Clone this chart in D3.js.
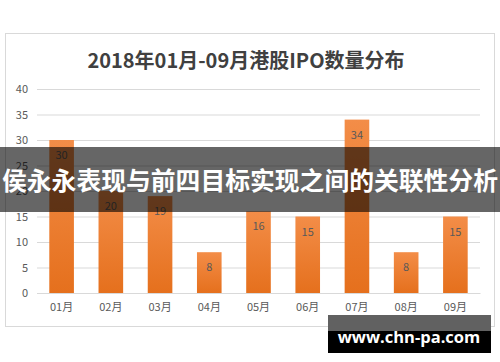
<!DOCTYPE html>
<html>
<head>
<meta charset="utf-8">
<script src="https://cdn.jsdelivr.net/npm/d3@7"></script>
<style>
  body { margin: 0; background: #fff; }
  svg { display: block; }
</style>
</head>
<body>
<div id="chart"></div>
<script>
// chart data
var months = ["01月", "02月", "03月", "04月", "05月", "06月", "07月", "08月", "09月"];
var ipoCounts = [30, 20, 19, 8, 16, 15, 34, 8, 15];
var yTicks = [0, 5, 10, 15, 20, 25, 30, 35, 40];
var titleText = "2018年01月-09月港股IPO数量分布";
var bannerText = "侯永永表现与前四目标实现之间的关联性分析";
var markText = "www.chn-pa.com";

// svg measurements
var svgWidth = 500;
var svgHeight = 362;
var plot = {left: 37, right: 480, top: 89, bottom: 293};
var cjk = "'Noto Sans CJK SC', 'Noto Sans', sans-serif";

var svg = d3
    .select("#chart")
    .append("svg")
    .attr("width", svgWidth)
    .attr("height", svgHeight);

// bar gradient
var grad = svg.append("defs")
    .append("linearGradient")
    .attr("id", "barGrad")
    .attr("x1", 0).attr("y1", 0)
    .attr("x2", 0).attr("y2", 1);
grad.append("stop").attr("offset", "0%").attr("stop-color", "#f38d48");
grad.append("stop").attr("offset", "100%").attr("stop-color", "#e5701d");

// chart frame
svg.append("rect")
    .attr("x", 5.5)
    .attr("y", 33.5)
    .attr("width", 489)
    .attr("height", 293)
    .attr("fill", "#fff")
    .attr("stroke", "#d9d9d9");

// title
svg.append("text")
    .attr("x", 246)
    .attr("y", 68)
    .attr("text-anchor", "middle")
    .attr("font-family", cjk)
    .attr("font-size", "20px")
    .attr("font-weight", "bold")
    .attr("fill", "#404040")
    .text(titleText);

// scales
var xScale = d3.scaleBand()
    .domain(months)
    .range([plot.left, plot.right])
    .paddingInner(0.5)
    .paddingOuter(0.25);

var yScale = d3.scaleLinear()
    .domain([0, 40])
    .range([plot.bottom, plot.top]);

// gridlines + y labels
var leftAxis = d3.axisLeft(yScale)
    .tickValues(yTicks)
    .tickSize(-(plot.right - plot.left))
    .tickPadding(9);

var yAxis = svg.append("g")
    .attr("transform", "translate(" + plot.left + ",0)")
    .call(leftAxis);
yAxis.select(".domain").remove();
yAxis.selectAll("line").attr("stroke", "#d9d9d9");
yAxis.selectAll("text")
    .attr("font-family", cjk)
    .attr("font-size", "11px")
    .attr("fill", "#595959");

// bars
svg.append("g")
    .selectAll("rect")
    .data(ipoCounts)
    .enter()
    .append("rect")
    .attr("x", (d, i) => xScale(months[i]))
    .attr("y", d => yScale(d))
    .attr("width", xScale.bandwidth())
    .attr("height", d => yScale(0) - yScale(d))
    .attr("fill", "url(#barGrad)");

// value labels
svg.append("g")
    .selectAll("text")
    .data(ipoCounts)
    .enter()
    .append("text")
    .attr("x", (d, i) => xScale(months[i]) + xScale.bandwidth() / 2)
    .attr("y", d => yScale(d) + 19)
    .attr("text-anchor", "middle")
    .attr("font-family", cjk)
    .attr("font-size", "11px")
    .attr("fill", "#595959")
    .text(d => d);

// x axis labels
var bottomAxis = d3.axisBottom(xScale).tickSize(0).tickPadding(10);
var xAxis = svg.append("g")
    .attr("transform", "translate(0," + plot.bottom + ")")
    .call(bottomAxis);
xAxis.select(".domain").attr("stroke", "#d9d9d9");
xAxis.selectAll("text")
    .attr("font-family", cjk)
    .attr("font-size", "11px")
    .attr("fill", "#595959");

// dark banner across the middle
svg.append("rect")
    .attr("x", 0)
    .attr("y", 147)
    .attr("width", svgWidth)
    .attr("height", 65)
    .attr("fill", "#000")
    .attr("fill-opacity", 0.6);

svg.append("text")
    .attr("x", 250)
    .attr("y", 190)
    .attr("text-anchor", "middle")
    .attr("font-family", cjk)
    .attr("font-size", "24.8px")
    .attr("font-weight", "bold")
    .attr("fill", "#fff")
    .text(bannerText);

// watermark box bottom right
svg.append("rect")
    .attr("x", 328)
    .attr("y", 315)
    .attr("width", 163)
    .attr("height", 16)
    .attr("fill", "#616161");
svg.append("rect")
    .attr("x", 328)
    .attr("y", 331)
    .attr("width", 163)
    .attr("height", 22)
    .attr("fill", "#000");

svg.append("text")
    .attr("x", 409)
    .attr("y", 343)
    .attr("text-anchor", "middle")
    .attr("font-family", "'Open Sans', sans-serif")
    .attr("font-size", "16.5px")
    .attr("font-weight", "bold")
    .attr("fill", "#fff")
    .text(markText);
</script>
</body>
</html>
